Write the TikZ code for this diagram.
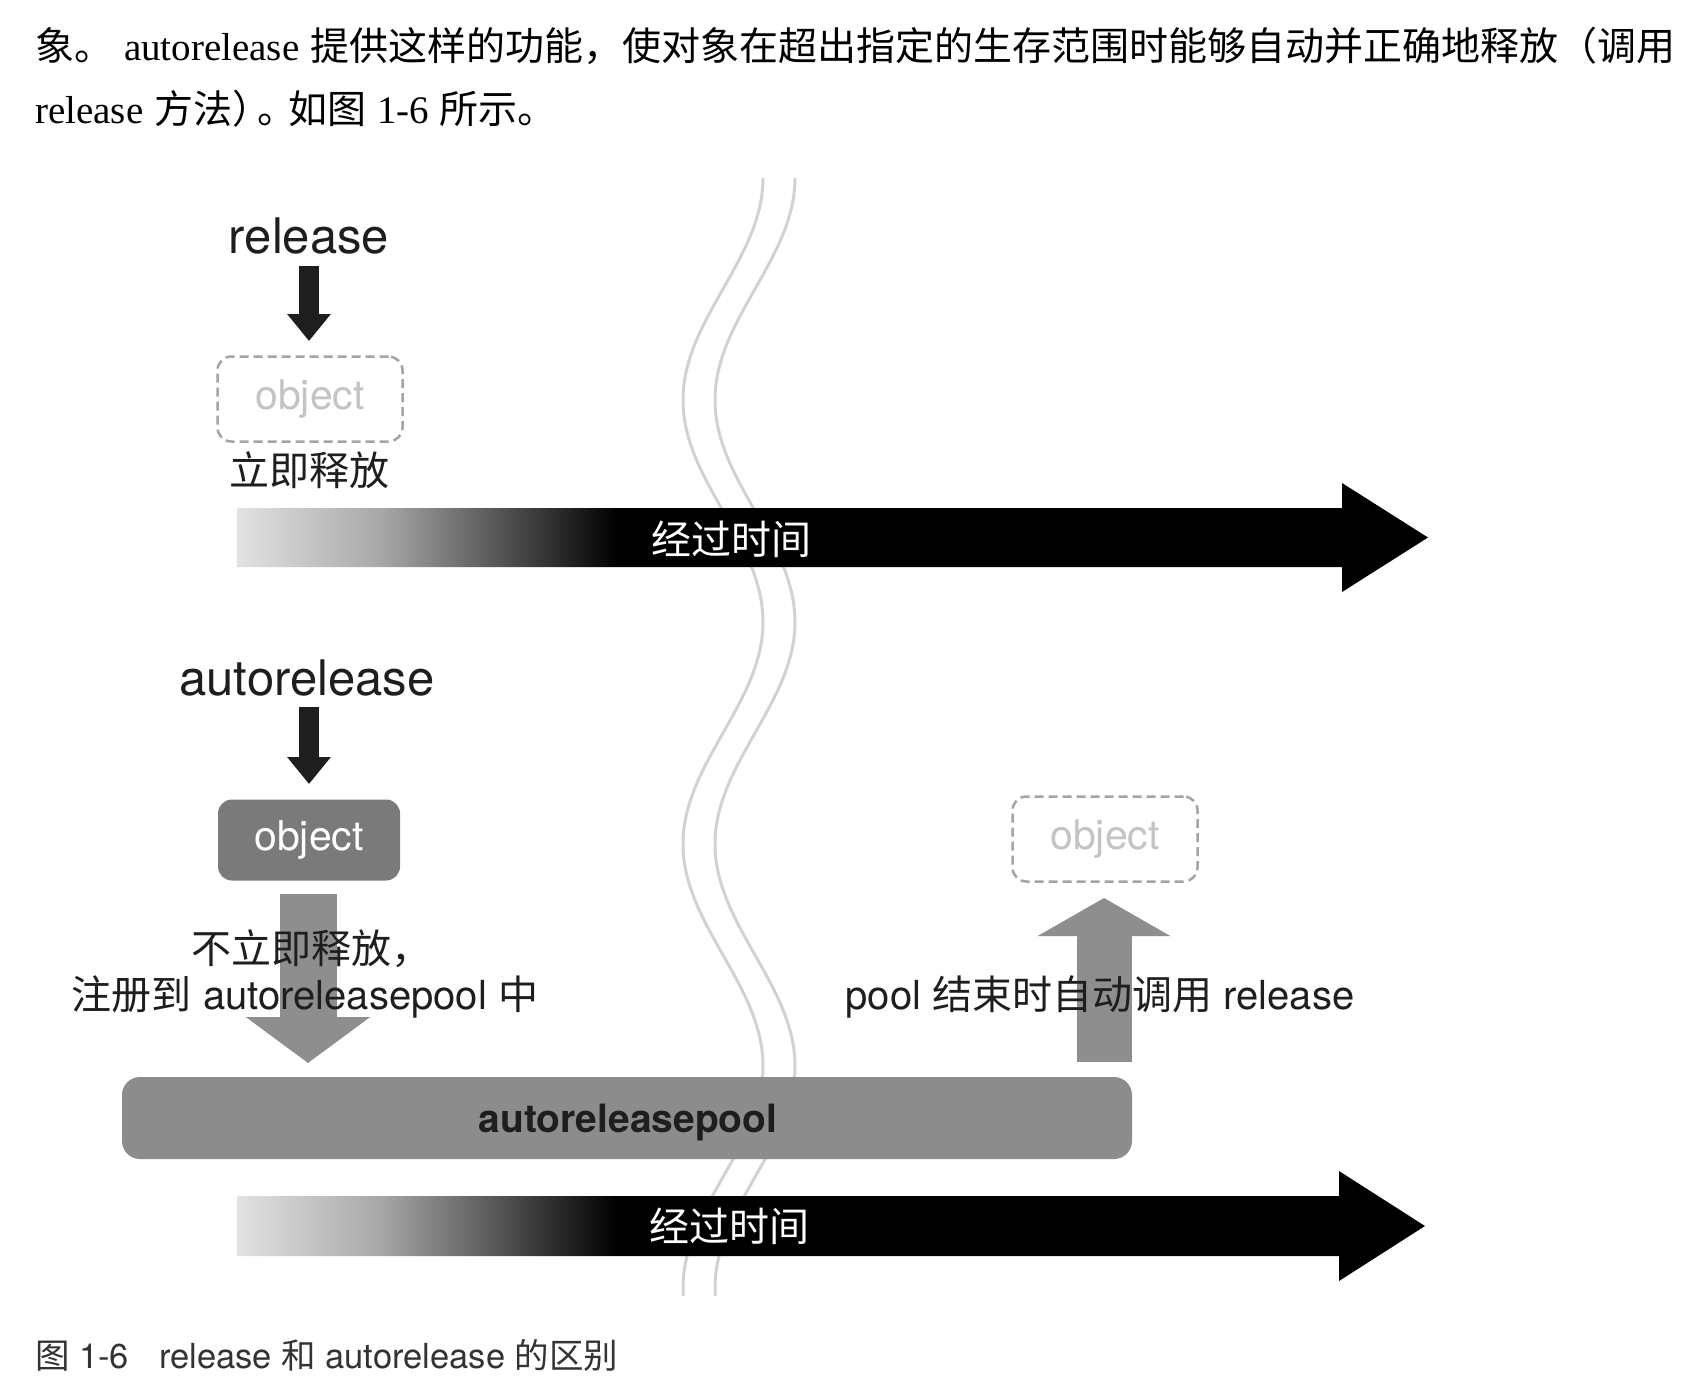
\documentclass[tikz,border=0pt]{standalone}
\usepackage{fontspec}
\setmainfont{TeX Gyre Heros}
\newfontfamily\cjk{Noto Sans CJK SC}
\newfontfamily\tms{Liberation Serif}
\usetikzlibrary{arrows.meta}
\definecolor{wavegray}{HTML}{D2D2D2}
\definecolor{boxgray}{HTML}{7A7A7A}
\definecolor{poolgray}{HTML}{8C8C8C}
\definecolor{arrgray}{HTML}{8E8E8E}
\definecolor{dashgray}{HTML}{A4A4A4}
\definecolor{ghost}{HTML}{C4C4C4}
\definecolor{ink}{HTML}{1E1E1E}
\definecolor{captink}{HTML}{333333}
\definecolor{gA}{HTML}{E2E2E2}
\definecolor{gB}{HTML}{A8A8A8}
\definecolor{gC}{HTML}{555555}
\pgfdeclarehorizontalshading{timegrad}{100bp}{color(0bp)=(gA); color(25bp)=(gA); color(31bp)=(gB); color(36bp)=(gC); color(41bp)=(black); color(100bp)=(black)}
\newcommand\setfs[1]{\fontsize{#1}{#1}\selectfont}
\begin{document}
\begin{tikzpicture}[x=1pt,y=-1pt,
  wave/.style={draw=wavegray, line width=3pt},
  ghostbox/.style={draw=dashgray, dash pattern=on 9pt off 5pt, line width=2.5pt,
    rounded corners=14pt, minimum width=185pt, minimum height=85pt, text=ghost, font=\setfs{41}},
  objbox/.style={fill=boxgray, rounded corners=14pt, minimum width=182pt,
    minimum height=81pt, text=white, font=\setfs{41}},
  poolbox/.style={fill=poolgray, rounded corners=18pt, minimum width=1010pt,
    minimum height=82pt},
  pooltext/.style={text=ink, font=\setfs{39}\bfseries},
  callarrow/.style={draw=ink, line width=20pt, -{Triangle[length=27pt,width=42pt]}},
  bigarrow/.style={draw=arrgray, line width=57pt},
  biglabel/.style={text=ink, font=\setfs{49}},
  cjklabel/.style={text=ink, font=\setfs{40}\cjk},
  timelabel/.style={text=white, font=\setfs{40}\cjk},
  timearrow/.style={shading=timegrad},
  bodytext/.style={anchor=west, text=black, inner sep=0pt},
]
\useasboundingbox (0,0) rectangle (1706,1398);
\fill[white] (0,0) rectangle (1706,1398);

% wavy break lines
\draw[wave] plot[domain=178:1296, samples=120, smooth] ({723+40*cos((\x-178)*0.81081)}, \x);
\draw[wave] plot[domain=178:1296, samples=120, smooth] ({755+40*cos((\x-178)*0.81081)}, \x);

% time arrows
\shade[timearrow] (237,508) -- (1342,508) -- (1342,483) -- (1428,537.5) -- (1342,592) -- (1342,567) -- (237,567) -- cycle;
\shade[timearrow] (237,1196) -- (1339,1196) -- (1339,1171) -- (1425,1226) -- (1339,1281) -- (1339,1256) -- (237,1256) -- cycle;

% pool
\node[poolbox] (pool) at (627,1118) {};
\node[pooltext] (pooltxt) at (628,1123) {autoreleasepool};

% boxes
\node[ghostbox] (obj1) at (310,399) {object};
\node[objbox] (obj2) at (309,840) {object};
\node[ghostbox] (obj3) at (1105,839) {object};

% arrows
\coordinate (a1s) at (309,266); \coordinate (a1e) at (309,341);
\draw[callarrow] (a1s) -- (a1e);
\coordinate (a2s) at (309,707); \coordinate (a2e) at (309,784);
\draw[callarrow] (a2s) -- (a2e);
\coordinate (a3s) at (308,894); \coordinate (a3e) at (308,1063);
\draw[bigarrow, -{Triangle[length=46pt,width=122pt]}] (a3s) -- (a3e);
\coordinate (a4s) at (1104,1062); \coordinate (a4e) at (1104,898);
\draw[bigarrow, line width=55pt, -{Triangle[length=38pt,width=131pt]}] (a4s) -- (a4e);

% labels
\node[biglabel] (rel) at (309,236) {release};
\node[biglabel] (arel) at (307,678) {autorelease};
\node[cjklabel] (imm) at (309,470) {立即释放};
\node[timelabel] (t1) at (731,539) {经过时间};
\node[timelabel] (t2) at (729,1226) {经过时间};
\node[cjklabel] (notimm) at (311,949) {不立即释放，};
\node[text=ink, font=\setfs{40}] (reg) at (305,997) {{\cjk 注册到} autoreleasepool {\cjk 中}};
\node[text=ink, font=\setfs{40}] (end) at (1100,997) {pool {\cjk 结束时自动调用} release};

% body text
\node[bodytext] (p1) at (35,46) {\setfs{39}{\cjk 象。} {\tms autorelease} {\cjk 提供这样的功能，使对象在超出指定的生存范围时能够自动并正确地释放（调用}};
\node[bodytext] (p2) at (35,109) {\setfs{39}{\tms release} {\cjk 方法）}\kern-14pt{\cjk 。}\kern-8pt{\cjk 如图} {\tms 1-6} {\cjk 所示。}};
\node[bodytext, text=captink] (cap) at (35,1355) {\setfs{34.5}{\cjk 图} 1-6\hspace{30pt}release {\cjk 和} autorelease {\cjk 的区别}};
\end{tikzpicture}
\end{document}
